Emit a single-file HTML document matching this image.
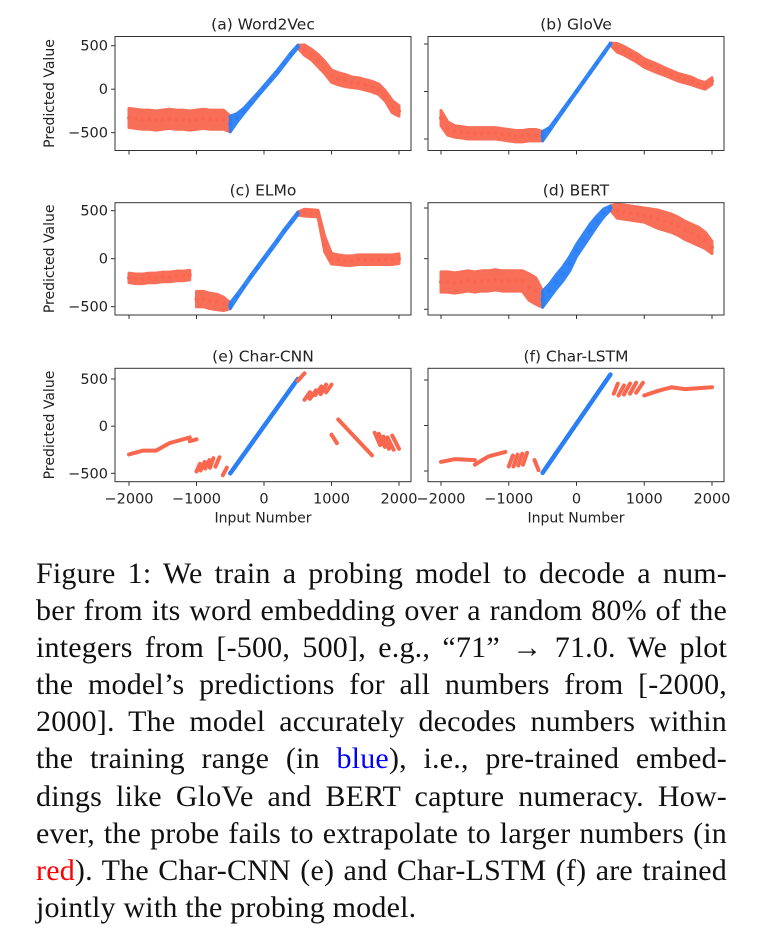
<!DOCTYPE html>
<html><head><meta charset="utf-8">
<style>
html,body{margin:0;padding:0;background:#fff;}
body{width:759px;height:951px;position:relative;overflow:hidden;}
#chart{position:absolute;left:0;top:0;}
#caption{position:absolute;left:36px;top:555px;width:691px;font-family:"Liberation Serif",serif;font-size:30px;letter-spacing:0.2px;line-height:37.1px;color:#111;}
#caption div{text-align:justify;text-align-last:justify;white-space:nowrap;}
#caption div.last{text-align-last:left;}
.b{color:#0000ff}.r{color:#ff0000}
</style></head>
<body>
<svg id="chart" width="759" height="540" xmlns="http://www.w3.org/2000/svg"></svg>
<div id="caption">
<div>Figure 1: We train a probing model to decode a num-</div>
<div>ber from its word embedding over a random 80% of the</div>
<div>integers from [-500, 500], e.g., “71” → 71.0. We plot</div>
<div>the model’s predictions for all numbers from [-2000,</div>
<div>2000]. The model accurately decodes numbers within</div>
<div>the training range (in <span class="b">blue</span>), i.e., pre-trained embed-</div>
<div>dings like GloVe and BERT capture numeracy. How-</div>
<div>ever, the probe fails to extrapolate to larger numbers (in</div>
<div><span class="r">red</span>). The Char-CNN (e) and Char-LSTM (f) are trained</div>
<div class="last">jointly with the probing model.</div>
</div>
<script>
// ---- data ----
const inputX = [-2000,-1900,-1800,-1700,-1600,-1500,-1400,-1300,-1200,-1100,-1000,-900,-800,-700,-600,-500,-400,-300,-200,-100,0,100,200,300,400,500,600,700,800,900,1000,1100,1200,1300,1400,1500,1600,1700,1800,1900,2000];
const xTicks = [-2000,-1000,0,1000,2000];
const xTickLabels = ["\u22122000","\u22121000","0","1000","2000"];
const yTicks = [500,0,-500];
const yTickLabels = ["500","0","\u2212500"];
const panelTitles = ["(a) Word2Vec","(b) GloVe","(c) ELMo","(d) BERT","(e) Char-CNN","(f) Char-LSTM"];

const w2vCenter = [-330,-340,-350,-350,-360,-350,-340,-350,-350,-360,-350,-340,-350,-350,-350,-400,-330,-250,-160,-70,20,110,200,300,400,490,450,400,330,250,150,120,100,80,70,50,30,0,-80,-200,-250];
const w2vSpread = [110,110,110,110,110,110,110,110,110,110,110,110,110,110,110,90,50,30,25,20,20,20,20,20,20,15,60,60,70,70,70,70,70,60,60,60,60,60,60,70,60];
const gloveCenter = [-280,-390,-420,-430,-440,-440,-440,-440,-440,-450,-460,-470,-470,-460,-460,-470,-400,-300,-200,-100,0,100,200,300,400,500,460,430,390,350,300,270,240,210,180,150,130,110,80,60,110];
const gloveSpread = [80,70,60,60,60,60,60,60,60,60,60,60,60,60,60,50,20,15,15,12,12,12,12,12,12,10,45,45,45,45,45,45,45,40,40,40,40,40,35,35,35];
const elmoCenter = [-200,-210,-210,-200,-200,-190,-190,-180,-180,-170,-420,-420,-440,-450,-470,-490,-390,-290,-190,-95,0,95,190,290,380,470,480,475,470,150,0,-10,-20,-20,-10,-10,-10,-10,-10,-10,0];
const elmoSpread = [50,50,50,50,50,50,50,50,50,50,80,80,80,80,70,30,20,15,15,15,15,15,15,15,15,15,35,35,35,80,55,50,50,50,50,50,50,50,50,50,50];
const bertCenter = [-230,-230,-240,-230,-220,-230,-220,-220,-210,-220,-220,-220,-220,-280,-320,-400,-320,-230,-150,-50,80,180,280,370,450,500,470,460,450,440,430,410,390,370,350,320,280,250,220,180,110];
const bertSpread = [100,100,100,100,100,100,100,100,100,100,100,100,100,130,130,80,70,70,70,70,60,60,60,50,40,20,70,70,70,70,70,80,90,90,90,90,90,90,90,80,60];

// Char-CNN strokes
const cnnStrokeX = [[-2000,-1800,-1600,-1400,-1100],[-1100,-1000],[-1000,-950],[-940,-880],[-870,-810],[-800,-750],[-720,-660],[-610,-550],[-500,500],[500,600],[600,680],[680,770],[760,850],[840,920],[920,1000],[1000,1080],[1100,1600],[1640,1720],[1700,1790],[1770,1850],[1830,1920],[1900,2000]];
const cnnStrokeY = [[-300,-260,-260,-180,-120],[-160,-140],[-480,-400],[-470,-380],[-450,-360],[-440,-340],[-430,-330],[-520,-440],[-500,500],[480,560],[280,360],[290,380],[330,420],[340,440],[360,440],[-90,-180],[70,-310],[-70,-200],[-80,-220],[-110,-240],[-120,-250],[-100,-240]];
// Char-LSTM strokes
const lstmStrokeX = [[-2000,-1800,-1500],[-1500,-1300,-1050],[-1000,-940],[-930,-870],[-860,-800],[-790,-730],[-620,-560],[-500,500],[550,610],[620,700],[700,790],[790,880],[880,980],[1000,1200,1400,1600,2000]];
const lstmStrokeY = [[-400,-370,-380],[-430,-340,-290],[-450,-330],[-450,-320],[-440,-310],[-430,-300],[-380,-490],[-520,560],[350,460],[330,440],[340,460],[350,470],[360,470],[330,380,420,400,420]];

// ---- layout ----
const NS = "http://www.w3.org/2000/svg";
const svg = document.getElementById('chart');
const RED = "#f9674f", BLUE = "#2a7ff5";
const FONT = 'DejaVu Sans, Liberation Sans, sans-serif';
const cols = [{l:115,r:411,x0:129,x1:399},{l:428,r:724,x0:441,x1:712}];
const rows = [{t:36.5,b:150.5},{t:202.7,b:315},{t:368.3,b:481.7}];
const ypx = [[45.7,132.7],[44,139],[210.7,306.7],[208,309.3],[379,473.3],[380,471]];

function mk(tag, attrs, parent){const e=document.createElementNS(NS,tag);for(const k in attrs)e.setAttribute(k,attrs[k]);(parent||svg).appendChild(e);return e;}

function panel(i){
  const c = cols[i%2];
  const row = Math.floor(i/2);
  const r = rows[row];
  const g = mk('g',{});
  
  
  const sx = v => c.x0 + (v+2000)/4000*(c.x1-c.x0);
  const sy = v => ypx[i][0] + (500-v)/1000*(ypx[i][1]-ypx[i][0]);
  const clip = 'clip'+i;
  const cp = mk('clipPath',{id:clip},g); mk('rect',{x:c.l,y:r.t,width:c.r-c.l,height:r.b-r.t},cp);
  const plot = mk('g',{'clip-path':'url(#'+clip+')'},g);
  
  
  return {g,plot,sx,sy,c,r,row,i};
}

function band(P, center, spread, i0, i1, color, name){
  let pts=[];
  for(let k=i0;k<=i1;k++) pts.push(P.sx(inputX[k])+','+P.sy(center[k]+spread[k]));
  for(let k=i1;k>=i0;k--) pts.push(P.sx(inputX[k])+','+P.sy(center[k]-spread[k]));
  const p = mk('polygon',{points:pts.join(' '),fill:color,stroke:color,'stroke-width':3,'stroke-linejoin':'round',opacity:0.95},P.plot);
  
  
  for(let k=i0;k<=i1;k++){
    const d = mk('circle',{cx:P.sx(inputX[k]),cy:P.sy(center[k]),r:2,fill:color},P.plot);
    
    
  }
}

function strokes(P, xsA, ysA){
  for(let s=0;s<xsA.length;s++){
    const pts = xsA[s].map((x,k)=>P.sx(x)+','+P.sy(ysA[s][k])).join(' ');
    const blue = xsA[s][0]>=-500 && xsA[s][xsA[s].length-1]<=500;
    const l = mk('polyline',{points:pts,fill:'none',stroke:blue?BLUE:RED,'stroke-width':blue?4.5:4,'stroke-linecap':'round','stroke-linejoin':'round'},P.plot);
    
    
  }
}

function axes(P){
  const {c,r,row,i,g,sx,sy} = P;
  const box = mk('rect',{x:c.l,y:r.t,width:c.r-c.l,height:r.b-r.t,fill:'none',stroke:'#333','stroke-width':1},g);
  
  
  const t = mk('text',{x:(c.l+c.r)/2,y:r.t-7,'text-anchor':'middle','font-family':FONT,'font-size':15.5,fill:'#222'},g);
  t.textContent = panelTitles[i];
  
  
  xTicks.forEach((v,k)=>{
    const tk = mk('line',{x1:sx(v),x2:sx(v),y1:r.b,y2:r.b+4,stroke:'#333'},g);
    
    
    if(row===2){
      const tl = mk('text',{x:sx(v),y:r.b+22,'text-anchor':'middle','font-family':FONT,'font-size':14.5,fill:'#222'},g);
      tl.textContent = xTickLabels[k];
      
      
    }
  });
  yTicks.forEach((v,k)=>{
    const tk = mk('line',{x1:c.l-4,x2:c.l,y1:sy(v),y2:sy(v),stroke:'#333'},g);
    
    
    if(i%2===0){
      const tl = mk('text',{x:c.l-7,y:sy(v)+5,'text-anchor':'end','font-family':FONT,'font-size':14.5,fill:'#222'},g);
      tl.textContent = yTickLabels[k];
      
      
    }
  });
  if(i%2===0){
    const cy=(r.t+r.b)/2;
    const yl = mk('text',{x:0,y:0,transform:'translate(54,'+cy+') rotate(-90)','text-anchor':'middle','font-family':FONT,'font-size':14,fill:'#222'},g);
    yl.textContent='Predicted Value';
    
    
  }
  if(row===2){
    const xl = mk('text',{x:(c.l+c.r)/2,y:r.b+41,'text-anchor':'middle','font-family':FONT,'font-size':14,fill:'#222'},g);
    xl.textContent='Input Number';
    
    
  }
}

const clouds = [[w2vCenter,w2vSpread],[gloveCenter,gloveSpread],[elmoCenter,elmoSpread],[bertCenter,bertSpread]];
for(let i=0;i<6;i++){
  const P = panel(i);
  if(i<4){
    const [cen,spr] = clouds[i];
    const left = (i===2)?9:15;
    band(P,cen,spr,0,left,RED,'out-of-range-cloud-left');
    if(i===2) band(P,cen,spr,10,15,RED,'out-of-range-cloud-mid');
    band(P,cen,spr,25,40,RED,'out-of-range-cloud-right');
    band(P,cen,spr,15,25,BLUE,'in-range-cloud');
  } else if(i===4){
    strokes(P,cnnStrokeX,cnnStrokeY);
  } else {
    strokes(P,lstmStrokeX,lstmStrokeY);
  }
  axes(P);
}
</script>
</body></html>
